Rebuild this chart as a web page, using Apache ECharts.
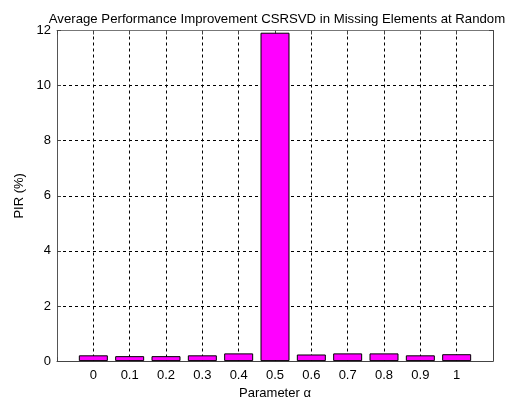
<!DOCTYPE html>
<html>
<head>
<meta charset="utf-8">
<script src="https://cdn.jsdelivr.net/npm/echarts@6/dist/echarts.min.js"></script>
<style>
  html, body { margin: 0; padding: 0; background: #fff; }
  #chart { width: 505px; height: 405px; }
</style>
</head>
<body>
<div id="chart"></div>
<script>
// Parameter alpha values and the average PIR (%) measured at each
const alphas = [0, 0.1, 0.2, 0.3, 0.4, 0.5, 0.6, 0.7, 0.8, 0.9, 1];
const pirValues = [0.21, 0.18, 0.18, 0.21, 0.28, 11.92, 0.24, 0.28, 0.28, 0.21, 0.25];
const yTicks = [0, 2, 4, 6, 8, 10, 12];

const FONT = 'Liberation Sans, Arial, sans-serif';
const chart = echarts.init(document.getElementById('chart'), null, { renderer: 'canvas' });

const fmtX = v => (v < -0.05 || v > 1.05) ? '' : String(+v.toFixed(1));

chart.setOption({
  animation: false,
  backgroundColor: '#fff',
  title: {
    text: 'Average Performance Improvement CSRSVD in Missing Elements at Random',
    left: 272, top: 8, textAlign: 'center',
    textStyle: { fontFamily: FONT, fontSize: 13.2, fontWeight: 'normal', color: '#000' }
  },
  grid: { left: 57, right: 12, top: 30.5, bottom: 37.5, containLabel: false },
  xAxis: [{
    type: 'value', min: -0.1, max: 1.1, interval: 0.1,
    name: 'Parameter α', nameLocation: 'middle', nameGap: 23,
    nameTextStyle: { fontFamily: FONT, fontSize: 13, color: '#000' },
    axisLine: { show: true, onZero: false, lineStyle: { color: '#444', width: 1 } },
    axisTick: { show: true, inside: true, length: 4, lineStyle: { color: '#444' } },
    axisLabel: { formatter: fmtX, fontFamily: FONT, fontSize: 13, color: '#000', margin: 8 },
    splitLine: { show: true, lineStyle: { color: '#000', type: [3, 3], width: 1 } }
  }, {
    type: 'value', position: 'top', min: -0.1, max: 1.1, interval: 0.1,
    axisLine: { show: true, onZero: false, lineStyle: { color: '#777', width: 1 } },
    axisTick: { show: true, inside: true, length: 4, lineStyle: { color: '#444' } },
    axisLabel: { show: false },
    splitLine: { show: false }
  }],
  yAxis: [{
    type: 'value', min: 0, max: 12, interval: 2,
    name: 'PIR (%)', nameLocation: 'middle', nameGap: 27,
    nameTextStyle: { fontFamily: FONT, fontSize: 13, color: '#000' },
    axisLine: { show: true, onZero: false, lineStyle: { color: '#555', width: 1 } },
    axisTick: { show: true, inside: true, length: 4, lineStyle: { color: '#444' } },
    axisLabel: {
      fontFamily: FONT, fontSize: 13, color: '#000', margin: 6,
      formatter: v => yTicks.includes(v) ? String(v) : ''
    },
    splitLine: { show: true, lineStyle: { color: '#000', type: [3, 3], width: 1 } }
  }, {
    type: 'value', position: 'right', min: 0, max: 12, interval: 2,
    axisLine: { show: true, onZero: false, lineStyle: { color: '#444', width: 1 } },
    axisTick: { show: true, inside: true, length: 4, lineStyle: { color: '#444' } },
    axisLabel: { show: false },
    splitLine: { show: false }
  }],
  series: [{
    type: 'bar',
    xAxisIndex: 0, yAxisIndex: 0,
    barWidth: 29,
    data: alphas.map((a, i) => [a, pirValues[i]]),
    itemStyle: { color: '#ff00ff', borderColor: '#000', borderWidth: 1 }
  }]
});
</script>
</body>
</html>
